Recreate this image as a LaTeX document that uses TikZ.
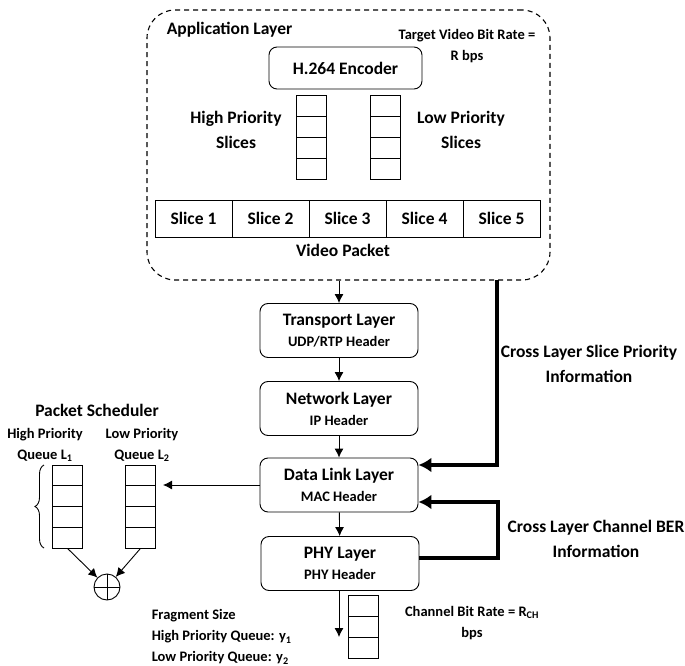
\documentclass[tikz,border=0pt]{standalone}
\usepackage{fontspec}
\setmainfont{Carlito}
\usetikzlibrary{arrows.meta,decorations.pathreplacing}
\newcommand\bigf{\fontsize{17.5}{25}\selectfont\bfseries}
\newcommand\smallf{\fontsize{14.5}{21}\selectfont\bfseries}
\tikzset{
  layer/.style={draw,rounded corners=8pt,minimum width=158pt,minimum height=54pt,align=center,font=\smallf,inner sep=0pt},
  cell/.style={draw,minimum width=30pt,minimum height=21pt,inner sep=0pt},
  slot/.style={draw,minimum width=77pt,minimum height=37pt,font=\bigf,inner sep=0pt},
  arr/.style={-{Latex[length=9pt,width=9pt]}},
  xarr/.style={line width=4pt,-{Latex[length=13pt,width=15pt]}},
}
\begin{document}
\begin{tikzpicture}[x=1pt,y=-1pt,line width=0.9pt]
\useasboundingbox (0,0) rectangle (685,666);

\node[draw,line width=1.1pt,dash pattern=on 5pt off 4pt,rounded corners=28pt,minimum width=403pt,minimum height=270pt] (app) at (348.5,145) {};
\node[anchor=west,font=\bigf] (apptitle) at (163,30) {Application Layer};
\node[align=center,font=\smallf] (rate) at (467,46) {Target Video Bit Rate =\\R bps};
\node[draw,rounded corners=8pt,minimum width=153pt,minimum height=42pt,font=\bigf] (enc) at (345.5,68) {H.264 Encoder};
\foreach \i/\y in {0/105.6,1/126.9,2/148.1,3/169.4} {
  \node[cell] (hs\i) at (311.5,\y) {};
  \node[cell] (ls\i) at (385,\y) {};
}
\node[align=center,font=\bigf] (hslbl) at (236,130) {High Priority\\Slices};
\node[align=center,font=\bigf] (lslbl) at (461,130) {Low Priority\\Slices};
\foreach \i in {1,...,5}
  \node[slot] (s\i) at (116.5+77*\i,218.5) {Slice \i};
\node[font=\bigf] (vp) at (343,250) {Video Packet};

\node[layer] (trans) at (339,330.5) {{\bigf Transport Layer}\\UDP/RTP Header};
\node[layer] (net) at (339,408.5) {{\bigf Network Layer}\\IP Header};
\node[layer] (dll) at (339,485) {{\bigf Data Link Layer}\\MAC Header};
\node[layer] (phy) at (340,563.5) {{\bigf PHY Layer}\\PHY Header};
\coordinate (out) at (339,637);
\foreach \i/\y in {0/605.5,1/626.5,2/647.5}
  \node[cell] (f\i) at (363,\y) {};

\draw[arr] (app.south -| trans.north) -- (trans.north);
\draw[arr] (trans) -- (net);
\draw[arr] (net) -- (dll);
\draw[arr] (dll) -- (phy);
\draw[arr] (phy.south -| out) -- (out);

\coordinate (spx) at (497,280);
\draw[xarr] (spx) |- ([yshift=20pt]dll.east);
\draw[xarr] ([yshift=6pt]phy.east) -- ++(79,0) |- ([yshift=-17pt]dll.east);
\node[align=center,font=\bigf] (sp) at (589,364) {Cross Layer Slice Priority\\Information};
\node[align=center,font=\bigf] (ber) at (596,539) {Cross Layer Channel BER\\Information};

\node[font=\bigf] (sched) at (97,410) {Packet Scheduler};
\node[align=center,font=\smallf] (hqlbl) at (45,445) {High Priority\\Queue L\textsubscript{1}};
\node[align=center,font=\smallf] (lqlbl) at (142,445) {Low Priority\\Queue L\textsubscript{2}};
\foreach \i/\y in {0/475.4,1/496.1,2/516.9,3/537.6} {
  \node[cell,minimum height=20.75pt] (hq\i) at (67.5,\y) {};
  \node[cell,minimum height=20.75pt] (lq\i) at (140.5,\y) {};
}
\draw[decorate,decoration={brace,amplitude=9pt}] (44,548) -- (44,465);
\coordinate (qin) at (163,485);
\draw[arr] (dll.west) -- (qin);
\node[draw,circle,minimum size=26pt,inner sep=0pt] (mux) at (107,587) {};
\draw (mux.north) -- (mux.south) (mux.west) -- (mux.east);
\draw[arr] (hq3.south) -- (mux);
\draw[arr] (lq3.south) -- (mux);

\node[anchor=west,align=left,font=\smallf] (frag) at (148,637) {Fragment Size\\High Priority Queue: y\textsubscript{1}\\Low Priority Queue: y\textsubscript{2}};
\node[align=center,font=\smallf] (chrate) at (472,623) {Channel Bit Rate = R\textsubscript{CH}\\bps};
\end{tikzpicture}
\end{document}
